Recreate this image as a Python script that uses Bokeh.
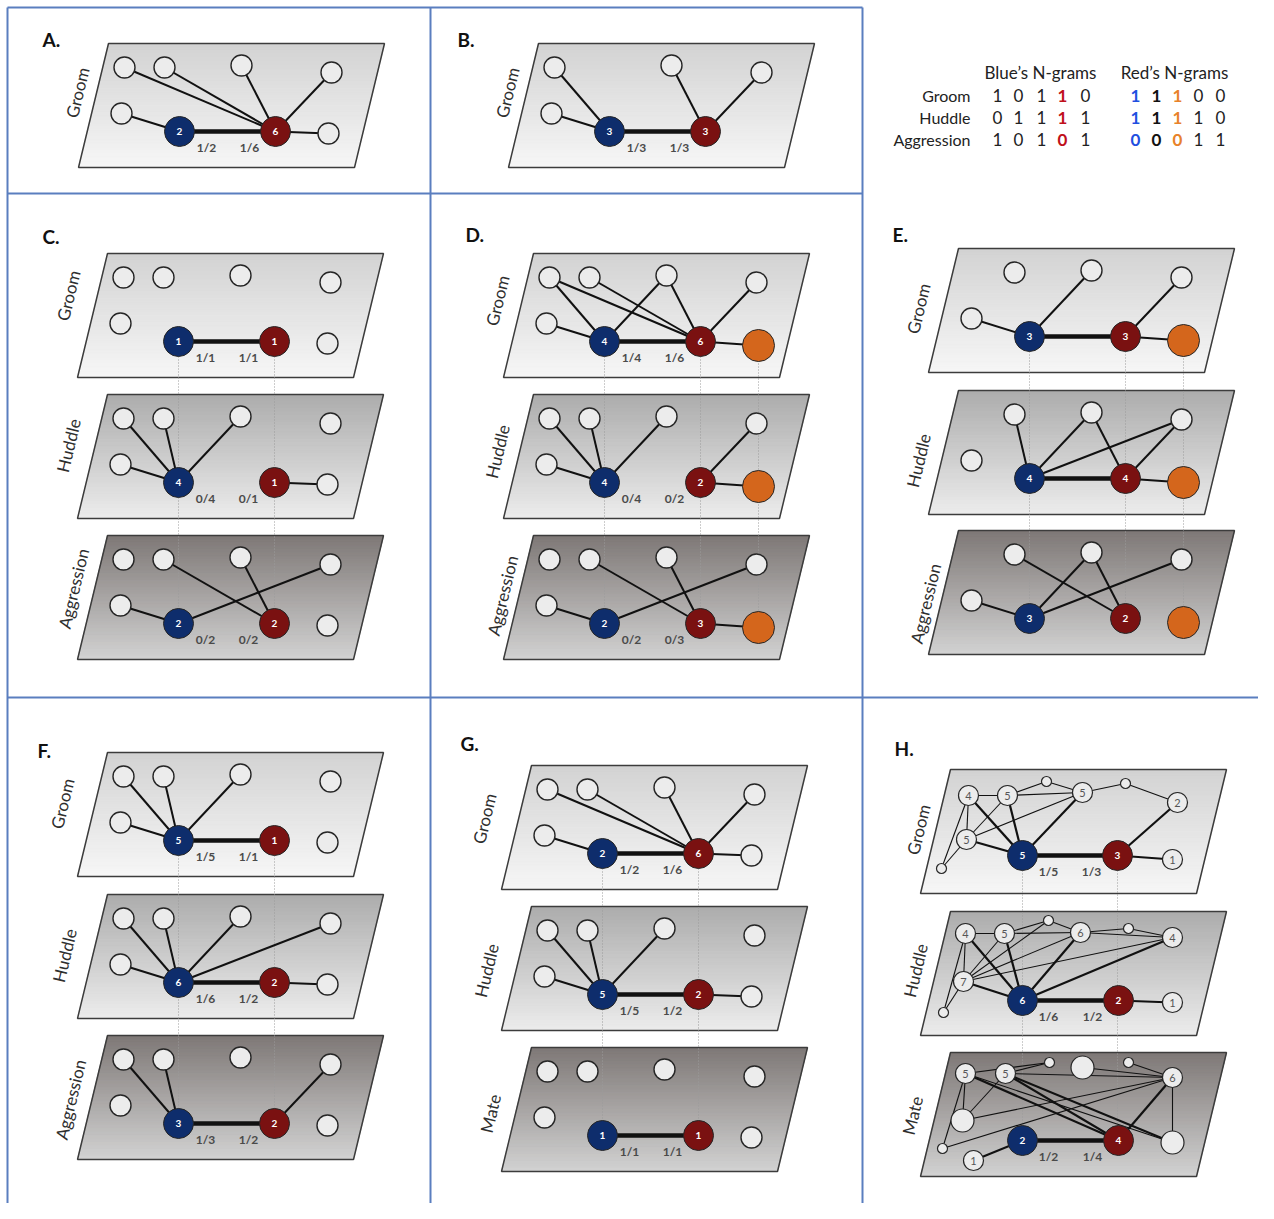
import math
from bokeh.plotting import figure
from bokeh.models import Range1d
from bokeh.core.properties import value
from bokeh.embed import file_html
from bokeh.resources import INLINE

FONT = "Lato"

# ======================= DATA =======================
ngram_rows = ["Groom", "Huddle", "Aggression"]
blue_ngrams_groom = [1, 0, 1, 1, 0]
blue_ngrams_huddle = [0, 1, 1, 1, 1]
blue_ngrams_aggression = [1, 0, 1, 0, 1]
red_ngrams_groom = [1, 1, 1, 0, 0]
red_ngrams_huddle = [1, 1, 1, 1, 0]
red_ngrams_aggression = [0, 0, 0, 1, 1]
blue_ngram_col_colors = ["#222222", "#222222", "#222222", "#c0101a", "#222222"]
red_ngram_col_colors = ["#1f4fe0", "#111111", "#e8822a", "#222222", "#222222"]
blue_ngram_col_bold = [False, False, False, True, False]
red_ngram_col_bold = [True, True, True, False, False]

panel_letters = ["A.", "B.", "C.", "D.", "E.", "F.", "G.", "H."]

ALL6 = ["w0", "w1", "w2", "w3", "w4", "w5"]
D_WHITES = ["w0", "w1", "w2", "w3", "w4"]
E_WHITES = ["w1", "w2", "w3", "w4"]
B_WHITES = ["w0", "w2", "w3", "w4"]

# (layer name, white nodes, has orange, (blue degree, red degree), edges, fractions)
panel_A = [("Groom", ALL6, False, ("2", "6"),
            [("R", "w0"), ("R", "w1"), ("R", "w2"), ("R", "w3"), ("R", "w5"), ("B", "w4"), ("B", "R")],
            ("1/2", "1/6"))]
panel_B = [("Groom", B_WHITES, False, ("3", "3"),
            [("B", "w0"), ("B", "w4"), ("R", "w2"), ("R", "w3"), ("B", "R")],
            ("1/3", "1/3"))]
panel_C = [
    ("Groom", ALL6, False, ("1", "1"), [("B", "R")], ("1/1", "1/1")),
    ("Huddle", ALL6, False, ("4", "1"),
     [("B", "w0"), ("B", "w1"), ("B", "w2"), ("B", "w4"), ("R", "w5")], ("0/4", "0/1")),
    ("Aggression", ALL6, False, ("2", "2"),
     [("B", "w4"), ("B", "w3"), ("R", "w1"), ("R", "w2")], ("0/2", "0/2")),
]
panel_D = [
    ("Groom", D_WHITES, True, ("4", "6"),
     [("B", "w0"), ("R", "w0"), ("R", "w1"), ("B", "w2"), ("R", "w2"), ("R", "w3"), ("B", "w4"),
      ("R", "O"), ("B", "R")], ("1/4", "1/6")),
    ("Huddle", D_WHITES, True, ("4", "2"),
     [("B", "w0"), ("B", "w1"), ("B", "w2"), ("B", "w4"), ("R", "w3"), ("R", "O")], ("0/4", "0/2")),
    ("Aggression", D_WHITES, True, ("2", "3"),
     [("B", "w4"), ("B", "w3"), ("R", "w1"), ("R", "w2"), ("R", "O")], ("0/2", "0/3")),
]
panel_E = [
    ("Groom", E_WHITES, True, ("3", "3"),
     [("B", "w4"), ("B", "w2"), ("R", "w3"), ("R", "O"), ("B", "R")], None),
    ("Huddle", E_WHITES, True, ("4", "4"),
     [("B", "w1"), ("B", "w2"), ("B", "w3"), ("R", "w2"), ("R", "w3"), ("R", "O"), ("B", "R")], None),
    ("Aggression", E_WHITES, True, ("3", "2"),
     [("B", "w4"), ("B", "w2"), ("B", "w3"), ("R", "w1"), ("R", "w2")], None),
]
panel_F = [
    ("Groom", ALL6, False, ("5", "1"),
     [("B", "w0"), ("B", "w1"), ("B", "w2"), ("B", "w4"), ("B", "R")], ("1/5", "1/1")),
    ("Huddle", ALL6, False, ("6", "2"),
     [("B", "w0"), ("B", "w1"), ("B", "w2"), ("B", "w3"), ("B", "w4"), ("R", "w5"), ("B", "R")],
     ("1/6", "1/2")),
    ("Aggression", ALL6, False, ("3", "2"),
     [("B", "w0"), ("B", "w1"), ("R", "w3"), ("B", "R")], ("1/3", "1/2")),
]
panel_G = [
    ("Groom", ALL6, False, ("2", "6"),
     [("R", "w0"), ("R", "w1"), ("R", "w2"), ("R", "w3"), ("R", "w5"), ("B", "w4"), ("B", "R")],
     ("1/2", "1/6")),
    ("Huddle", ALL6, False, ("5", "2"),
     [("B", "w0"), ("B", "w1"), ("B", "w2"), ("B", "w4"), ("R", "w5"), ("B", "R")], ("1/5", "1/2")),
    ("Mate", ALL6, False, ("1", "1"), [("B", "R")], ("1/1", "1/1")),
]

# Panel H: richer networks (node labels = degrees; "t*" tiny nodes, "u*" unlabeled nodes)
H_groom_labels = {"n4": "4", "n5a": "5", "t1": "", "n5b": "5", "t2": "", "n2": "2",
                  "n5c": "5", "t3": "", "B": "5", "R": "3", "n1": "1"}
H_groom_thin = [("n4", "n5a"), ("n5a", "t1"), ("t1", "n5b"), ("n5b", "t2"), ("t2", "n2"),
                ("n4", "n5c"), ("n4", "t3"), ("n5c", "t3"), ("n5c", "n5a"), ("n5c", "n5b"),
                ("n5a", "n5b")]
H_groom_medium = [("n4", "B"), ("n5a", "B"), ("n5b", "B"), ("n5c", "B"), ("R", "n2"), ("R", "n1")]

H_huddle_labels = {"n4a": "4", "n5": "5", "t1": "", "n6": "6", "t2": "", "n4b": "4",
                   "n7": "7", "t3": "", "B": "6", "R": "2", "n1": "1"}
H_huddle_thin = [("n4a", "n5"), ("n5", "t1"), ("t1", "n6"), ("n5", "n6"), ("n6", "t2"), ("t2", "n4b"),
                 ("n6", "n4b"), ("n4a", "n7"), ("n4a", "t3"), ("n7", "t3"), ("n7", "n5"), ("n7", "t1"),
                 ("n7", "n6"), ("n7", "n4b")]
H_huddle_medium = [("n4a", "B"), ("n5", "B"), ("n6", "B"), ("n4b", "B"), ("n7", "B"), ("R", "n1")]

H_mate_labels = {"n5a": "5", "n5b": "5", "t1": "", "u1": "", "t2": "", "n6": "6", "u2": "",
                 "t3": "", "n1": "1", "B": "2", "R": "4", "u3": ""}
H_mate_thin = [("n5a", "t1"), ("n5b", "t1"), ("u1", "n6"), ("t2", "n6"), ("u2", "n6"), ("t3", "n6"),
               ("n5a", "u2"), ("n5a", "t3"), ("n5b", "u2"), ("n5a", "u3"), ("n5b", "n6"), ("n6", "u3")]
H_mate_medium = [("n5a", "R"), ("n5b", "R"), ("n5b", "u3"), ("n6", "R"), ("n1", "B")]

panel_H = [("Groom", H_groom_labels, H_groom_thin, H_groom_medium, ("1/5", "1/3")),
           ("Huddle", H_huddle_labels, H_huddle_thin, H_huddle_medium, ("1/6", "1/2")),
           ("Mate", H_mate_labels, H_mate_thin, H_mate_medium, ("1/2", "1/4"))]

# ======================= LAYOUT =======================
LAYER_W, LAYER_H, LAYER_SKEW = 276, 124, 30
TONE_ORDER = ["light", "mid", "dark"]
TONES = {"light": ((210, 210, 210), (247, 247, 247)),
         "mid": ((172, 172, 172), (236, 236, 236)),
         "dark": ((126, 120, 118), (210, 210, 210))}

template_pos = {"w0": (16, 24), "w1": (56, 24), "w2": (133, 22), "w3": (223, 29),
                "w4": (13, 70), "w5": (220, 90), "B": (71, 88), "R": (167, 88), "O": (225, 92)}

H_pos = [
    {"n4": (18, 26), "n5a": (57, 26), "t1": (96, 12), "n5b": (132, 23), "t2": (175, 14),
     "n2": (227, 33), "n5c": (16, 70), "t3": (-9, 99), "B": (72, 86), "R": (167, 86), "n1": (222, 90)},
    {"n4a": (15, 22), "n5": (54, 22), "t1": (98, 9), "n6": (130, 21), "t2": (178, 17),
     "n4b": (222, 26), "n7": (13, 70), "t3": (-7, 101), "B": (72, 89), "R": (168, 89), "n1": (222, 91)},
    {"n5a": (15, 21), "n5b": (55, 21), "t1": (99, 10), "u1": (132, 15), "t2": (178, 10),
     "n6": (222, 25), "u2": (12, 68), "t3": (-8, 96), "n1": (23, 108), "B": (72, 88),
     "R": (168, 88), "u3": (222, 90)},
]

panel_origins = {
    "A.": [(108, 43)], "B.": [(538, 43)],
    "C.": [(107, 253), (107, 394), (107, 535)],
    "D.": [(533, 253), (533, 394), (533, 535)],
    "E.": [(958, 248), (958, 390), (958, 530)],
    "F.": [(107, 752), (107, 894), (107, 1035)],
    "G.": [(531, 765), (531, 906), (531, 1047)],
    "H.": [(950, 769), (950, 911), (950, 1052)],
}
letter_xy = {"A.": (42, 39), "B.": (457, 39), "C.": (42, 236), "D.": (465, 234), "E.": (892, 234),
             "F.": (37, 750), "G.": (460, 743), "H.": (894, 748)}
name_off = {
    "A.": [(-31, 49)], "B.": [(-31, 49)],
    "C.": [(-39, 42), (-39, 51), (-34, 53)],
    "D.": [(-36, 47), (-36, 57), (-31, 60)],
    "E.": [(-40, 60), (-40, 70), (-33, 73)],
    "F.": [(-45, 51), (-43, 61), (-37, 64)],
    "G.": [(-47, 53), (-45, 64), (-41, 66)],
    "H.": [(-32, 60), (-35, 59), (-38, 63)],
}

BLUE, RED, ORANGE = "#0e2d6c", "#7a1111", "#d4661c"
WHITE_FILL = "#ececec"
GRID_COLOR = "#5a7ebf"

# ======================= FIGURE =======================
p = figure(width=1258, height=1203, x_range=Range1d(0, 1258), y_range=Range1d(1203, 0),
           output_backend="svg", toolbar_location=None, min_border=0,
           x_axis_type=None, y_axis_type=None, background_fill_color="white")
p.outline_line_color = None

strip_xs, strip_ys, strip_cols = [], [], []
out_xs, out_ys = [], []
con_x0, con_y0, con_x1, con_y1 = [], [], [], []
e_xs, e_ys, e_w = [], [], []
nd_x, nd_y, nd_s, nd_f, nd_lw = [], [], [], [], []
cl_x, cl_y, cl_t = [], [], []          # labels in coloured nodes
wl_x, wl_y, wl_t = [], [], []          # labels in white nodes (H)
fr_x, fr_y, fr_t = [], [], []          # fractions
nm_x, nm_y, nm_t = [], [], []          # layer names

N_STRIPS = 36


def add_layer(ox, oy, tone):
    top, bot = TONES[tone]
    for i in range(N_STRIPS):
        t0 = i / N_STRIPS
        t1 = min((i + 1) / N_STRIPS + 0.01, 1.0)
        tm = (i + 0.5) / N_STRIPS
        c = tuple(int(round(top[k] + (bot[k] - top[k]) * tm)) for k in range(3))
        strip_xs.append([ox - LAYER_SKEW * t0, ox + LAYER_W - LAYER_SKEW * t0,
                         ox + LAYER_W - LAYER_SKEW * t1, ox - LAYER_SKEW * t1])
        strip_ys.append([oy + LAYER_H * t0, oy + LAYER_H * t0, oy + LAYER_H * t1, oy + LAYER_H * t1])
        strip_cols.append("#%02x%02x%02x" % c)
    out_xs.append([ox, ox + LAYER_W, ox + LAYER_W - LAYER_SKEW, ox - LAYER_SKEW])
    out_ys.append([oy, oy, oy + LAYER_H, oy + LAYER_H])


def add_node(x, y, size, fill, lw=1.4):
    nd_x.append(x); nd_y.append(y); nd_s.append(size); nd_f.append(fill); nd_lw.append(lw)


simple_panels = [("A.", panel_A), ("B.", panel_B), ("C.", panel_C), ("D.", panel_D),
                 ("E.", panel_E), ("F.", panel_F), ("G.", panel_G)]

for letter, layers in simple_panels:
    origins = panel_origins[letter]
    for li, (name, whites, has_orange, deg, edges, frac) in enumerate(layers):
        ox, oy = origins[li]
        tone = "light" if len(layers) == 1 else TONE_ORDER[li]
        add_layer(ox, oy, tone)
        pos = {k: (ox + v[0], oy + v[1]) for k, v in template_pos.items()}
        for a, b in edges:
            e_xs.append([pos[a][0], pos[b][0]]); e_ys.append([pos[a][1], pos[b][1]])
            e_w.append(4.5 if {a, b} == {"B", "R"} else 2.0)
        for w in whites:
            add_node(pos[w][0], pos[w][1], 21, WHITE_FILL)
        if has_orange:
            add_node(pos["O"][0], pos["O"][1], 32, ORANGE, 1.0)
        add_node(pos["B"][0], pos["B"][1], 30, BLUE, 1.0)
        add_node(pos["R"][0], pos["R"][1], 30, RED, 1.0)
        cl_x += [pos["B"][0], pos["R"][0]]; cl_y += [pos["B"][1], pos["R"][1]]; cl_t += list(deg)
        if frac:
            fr_x += [pos["B"][0] + 27, pos["R"][0] - 26]
            fr_y += [pos["B"][1] + 16, pos["R"][1] + 16]
            fr_t += list(frac)
        nx, ny = name_off[letter][li]
        nm_x.append(ox + nx); nm_y.append(oy + ny); nm_t.append(name)
    if len(layers) == 3:
        keys = ["B", "R"] + (["O"] if layers[0][2] else [])
        for k in keys:
            x = origins[0][0] + template_pos[k][0]
            con_x0.append(x); con_x1.append(x)
            con_y0.append(origins[0][1] + template_pos[k][1])
            con_y1.append(origins[2][1] + template_pos[k][1])

# Panel H
origins = panel_origins["H."]
for li, (name, labels, thin, medium, frac) in enumerate(panel_H):
    ox, oy = origins[li]
    add_layer(ox, oy, TONE_ORDER[li])
    pos = {k: (ox + v[0], oy + v[1]) for k, v in H_pos[li].items()}
    for a, b in thin:
        e_xs.append([pos[a][0], pos[b][0]]); e_ys.append([pos[a][1], pos[b][1]]); e_w.append(1.1)
    for a, b in medium:
        e_xs.append([pos[a][0], pos[b][0]]); e_ys.append([pos[a][1], pos[b][1]]); e_w.append(2.2)
    e_xs.append([pos["B"][0], pos["R"][0]]); e_ys.append([pos["B"][1], pos["R"][1]]); e_w.append(4.5)
    for k, lab in labels.items():
        x, y = pos[k]
        if k == "B":
            add_node(x, y, 30, BLUE, 1.0); cl_x.append(x); cl_y.append(y); cl_t.append(lab)
        elif k == "R":
            add_node(x, y, 30, RED, 1.0); cl_x.append(x); cl_y.append(y); cl_t.append(lab)
        elif k.startswith("t"):
            add_node(x, y, 10, WHITE_FILL, 1.2)
        elif k.startswith("u"):
            add_node(x, y, 23, WHITE_FILL, 1.2)
        else:
            add_node(x, y, 20, WHITE_FILL, 1.2); wl_x.append(x); wl_y.append(y); wl_t.append(lab)
    fr_x += [pos["B"][0] + 26, pos["R"][0] - 26]
    fr_y += [pos["B"][1] + 16, pos["R"][1] + 16]
    fr_t += list(frac)
    nx, ny = name_off["H."][li]
    nm_x.append(ox + nx); nm_y.append(oy + ny); nm_t.append(name)
for k in ["B", "R"]:
    x = origins[0][0] + H_pos[0][k][0]
    con_x0.append(x); con_x1.append(x)
    con_y0.append(origins[0][1] + H_pos[0][k][1]); con_y1.append(origins[2][1] + H_pos[2][k][1])

# ---- draw ----
p.patches(xs=strip_xs, ys=strip_ys, fill_color=strip_cols, line_color=strip_cols, line_width=0.6)
p.patches(xs=out_xs, ys=out_ys, fill_color=None, line_color="#3c3c3c", line_width=1.5)
p.segment(x0=con_x0, y0=con_y0, x1=con_x1, y1=con_y1, line_color="#9a9a9a",
          line_width=1, line_dash="1 2")
p.multi_line(xs=e_xs, ys=e_ys, line_color="#111111", line_width=e_w)
p.scatter(x=nd_x, y=nd_y, size=nd_s, fill_color=nd_f, line_color="#262626", line_width=nd_lw)

p.text(x=cl_x, y=cl_y, text=cl_t, text_color="white", text_font=value(FONT), text_font_size="10px",
       text_font_style="bold", text_align="center", text_baseline="middle")
p.text(x=wl_x, y=wl_y, text=wl_t, text_color="#555555", text_font=value(FONT), text_font_size="11px",
       text_align="center", text_baseline="middle")
p.text(x=fr_x, y=fr_y, text=fr_t, text_color="#4a4a4a", text_font=value(FONT), text_font_size="12px",
       text_font_style="bold", text_align="center", text_baseline="middle")
p.text(x=nm_x, y=nm_y, text=nm_t, text_color="#2e2e2e", text_font=value(FONT), text_font_size="17px",
       angle=math.degrees(math.atan2(LAYER_H, LAYER_SKEW)), angle_units="deg",
       text_align="center", text_baseline="middle")
p.text(x=[letter_xy[l][0] for l in panel_letters], y=[letter_xy[l][1] for l in panel_letters],
       text=panel_letters, text_color="#111111", text_font=value(FONT), text_font_size="19px",
       text_font_style="bold", text_align="left", text_baseline="middle")

# ---- N-gram table ----
row_y = [95, 117, 139]
blue_cols_x = [997, 1018, 1041, 1062, 1085]
red_cols_x = [1135, 1156, 1177, 1198, 1220]
p.text(x=[1040, 1174], y=[72, 72], text=["Blue\u2019s N-grams", "Red\u2019s N-grams"], text_color="#222222",
       text_font=value(FONT), text_font_size="17px", text_align="center", text_baseline="middle")
p.text(x=[970] * 3, y=row_y, text=ngram_rows, text_color="#222222", text_font=value(FONT),
       text_font_size="16px", text_align="right", text_baseline="middle")
blue_rows = [blue_ngrams_groom, blue_ngrams_huddle, blue_ngrams_aggression]
red_rows = [red_ngrams_groom, red_ngrams_huddle, red_ngrams_aggression]
for bold in (False, True):
    dx, dy, dt, dc = [], [], [], []
    for r in range(3):
        for c in range(5):
            if blue_ngram_col_bold[c] == bold:
                dx.append(blue_cols_x[c]); dy.append(row_y[r]); dt.append(str(blue_rows[r][c]))
                dc.append(blue_ngram_col_colors[c])
            if red_ngram_col_bold[c] == bold:
                dx.append(red_cols_x[c]); dy.append(row_y[r]); dt.append(str(red_rows[r][c]))
                dc.append(red_ngram_col_colors[c])
    p.text(x=dx, y=dy, text=dt, text_color=dc, text_font=value(FONT), text_font_size="17px",
           text_font_style="bold" if bold else "normal", text_align="center", text_baseline="middle")

# ---- panel frame lines ----
p.segment(x0=[7, 7, 430, 862, 7, 7], y0=[7, 7, 7, 7, 193, 697],
          x1=[862, 7, 430, 862, 862, 1274], y1=[7, 1219, 1219, 1219, 193, 697],
          line_color=GRID_COLOR, line_width=2)

open("out.html", "w").write(file_html(p, INLINE))
